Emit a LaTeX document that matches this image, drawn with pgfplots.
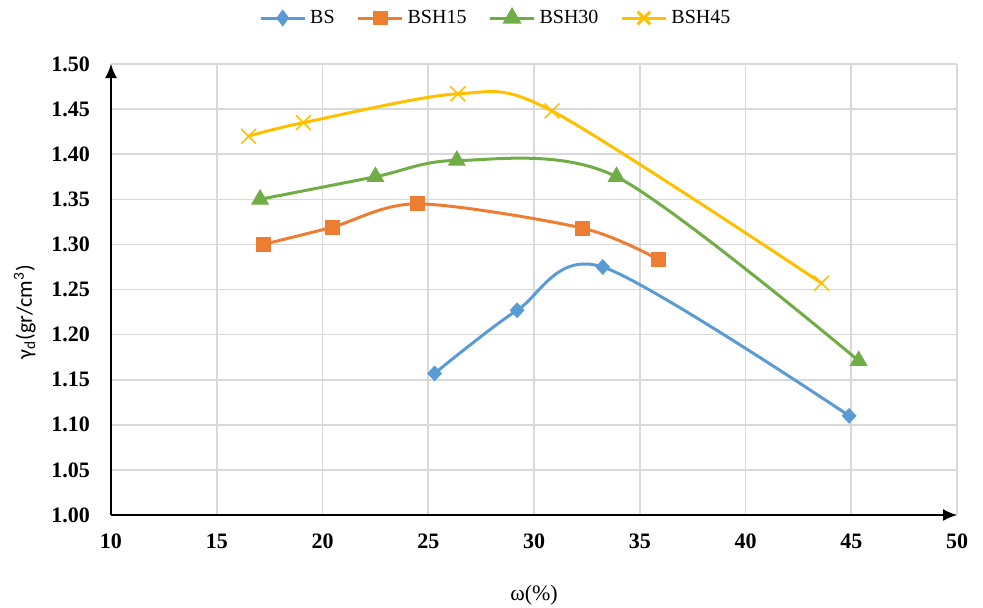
\documentclass[border=0pt]{standalone}
\usepackage{pgfplots}
\pgfplotsset{compat=1.18}
\usepackage{fontspec}
\setmainfont{Liberation Serif}
\newfontfamily\calib{Carlito}
\usetikzlibrary{arrows.meta}
\definecolor{cBS}{HTML}{5B9BD5}
\definecolor{cB15}{HTML}{ED7D31}
\definecolor{cB30}{HTML}{70AD47}
\definecolor{cB45}{HTML}{FFC000}
\definecolor{gridc}{HTML}{D9D9D9}
\begin{document}
\begin{tikzpicture}
\useasboundingbox (-55.5pt,-46pt) rectangle (436pt,257.5pt);
\begin{axis}[
  scale only axis,
  width=423pt, height=225.5pt,
  xmin=10, xmax=50, ymin=1.0, ymax=1.5,
  xtick={10,15,...,50},
  ytick={1.00,1.05,...,1.501},
  axis lines=left,
  axis line style={black, line width=0.9pt, -{Latex[length=7pt,width=6pt]}},
  major tick length=0pt,
  grid=major,
  major grid style={gridc, line width=0.8pt},
  tick label style={font=\fontsize{11}{12}\selectfont\bfseries},
  /pgf/number format/assume math mode=true,
  yticklabel style={/pgf/number format/fixed, /pgf/number format/fixed zerofill, /pgf/number format/precision=2, xshift=-7pt},
  xticklabel style={yshift=-6pt},
  xlabel={\fontsize{11}{13}\selectfont ω(\%)},
  xlabel style={at={(axis description cs:0.5,-0.177)}, anchor=center},
  ylabel={\calib\fontsize{11}{13}\selectfont γ\textsubscript{d}(gr/cm\textsuperscript{3})},
  ylabel style={at={(axis description cs:-0.102,0.45)}, anchor=center},
  legend columns=4,
  legend style={at={(rel axis cs:0.456,1.102)}, anchor=center, draw=none, fill=none,
    font=\fontsize{10}{12}\selectfont,
    /tikz/every even column/.append style={column sep=9pt}},
  legend image code/.code={\draw[mark repeat=2,mark phase=2, mark options={scale=0.85}] plot coordinates {(0pt,0pt)(11pt,0pt)(22pt,0pt)};},
  every axis plot/.append style={line width=1.5pt, smooth},
]
\addplot[cBS, mark=diamond*, mark size=3.6pt, mark options={solid, fill=cBS, line width=0.5pt, xscale=1.25}]
  coordinates {(25.3,1.157) (29.2,1.227) (33.25,1.275) (44.9,1.110)};
\addlegendentry{BS}
\addplot[cB15, mark=square*, mark size=3.5pt, mark options={solid, fill=cB15, line width=0.5pt}]
  coordinates {(17.2,1.300) (20.45,1.319) (24.5,1.345) (32.3,1.318) (35.9,1.283)};
\addlegendentry{BSH15}
\addplot[cB30, mark=triangle*, mark size=4.7pt, mark options={solid, fill=cB30, line width=0.5pt}]
  coordinates {(17.05,1.350) (22.5,1.375) (26.35,1.393) (33.9,1.375) (45.35,1.171)};
\addlegendentry{BSH30}
\addplot[cB45, mark=x, mark size=5.2pt, mark options={solid, line width=0.8pt}]
  coordinates {(16.5,1.420) (19.1,1.435) (26.4,1.467) (30.85,1.448) (43.6,1.257)};
\addlegendentry{BSH45}
\end{axis}
\end{tikzpicture}
\end{document}
